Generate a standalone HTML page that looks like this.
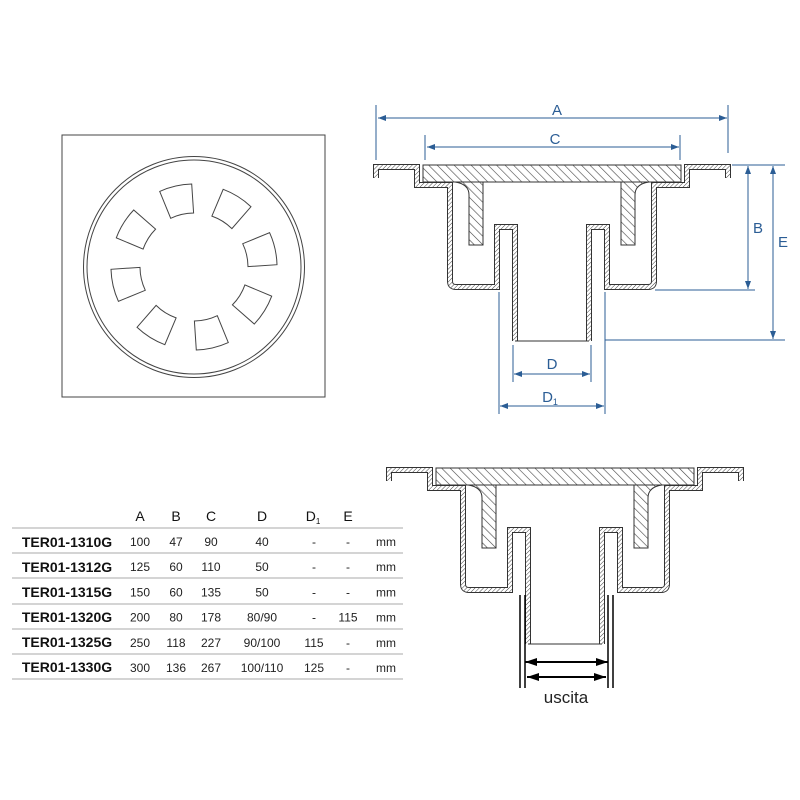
<!DOCTYPE html>
<html><head><meta charset="utf-8"><style>
html,body{margin:0;padding:0;background:#fff}
svg{display:block}
text{font-family:"Liberation Sans",sans-serif}
</style></head><body>
<svg width="800" height="800" viewBox="0 0 800 800" xmlns="http://www.w3.org/2000/svg">
<defs>
<pattern id="h1" patternUnits="userSpaceOnUse" width="3" height="3" patternTransform="rotate(45)">
<rect width="3" height="3" fill="#fff"/><line x1="0" y1="0" x2="0" y2="3" stroke="#444" stroke-width="1"/></pattern>
<pattern id="h2" patternUnits="userSpaceOnUse" width="6" height="6" patternTransform="rotate(-45)">
<rect width="6" height="6" fill="#fff"/><line x1="0" y1="0" x2="0" y2="6" stroke="#444" stroke-width="1.2"/></pattern>
<marker id="ab" markerWidth="8" markerHeight="6" refX="8" refY="3" orient="auto-start-reverse" markerUnits="userSpaceOnUse">
<path d="M0,0 L8,3 L0,6 Z" fill="#2b5d95"/></marker>
<marker id="ak" markerWidth="12" markerHeight="8" refX="12" refY="4" orient="auto-start-reverse" markerUnits="userSpaceOnUse">
<path d="M0,0 L12,4 L0,8 Z" fill="#000"/></marker>
<g id="sec">
<g fill="none" stroke-linejoin="miter">
<path d="M376,178 V167 H417 V185 H450 V281 Q450,287 456,287 H497 V227 H515 V341 M728,178 V167 H687 V185 H654 V281 Q654,287 648,287 H607 V227 H589 V341" stroke="#333" stroke-width="6"/>
<path d="M376,178 V167 H417 V185 H450 V281 Q450,287 456,287 H497 V227 H515 V341 M728,178 V167 H687 V185 H654 V281 Q654,287 648,287 H607 V227 H589 V341" stroke="url(#h1)" stroke-width="4"/>
</g>
<line x1="515" y1="341" x2="589" y2="341" stroke="#333" stroke-width="1"/>
<rect x="423" y="165" width="258" height="17" fill="url(#h2)" stroke="#333" stroke-width="1"/>
<path d="M455,182 Q469,184 469,195 V245 H483 V182 Z" fill="url(#h2)" stroke="#333" stroke-width="1"/>
<path d="M649,182 Q635,184 635,195 V245 H621 V182 Z" fill="url(#h2)" stroke="#333" stroke-width="1"/>
</g>
</defs>

<rect x="62" y="135" width="263" height="262" fill="none" stroke="#444" stroke-width="1"/>
<circle cx="194" cy="267" r="110.5" fill="none" stroke="#444" stroke-width="1"/>
<circle cx="194" cy="267" r="107" fill="none" stroke="#444" stroke-width="1"/>
<g id="slots" fill="none" stroke="#444" stroke-width="1"></g>

<use href="#sec"/>
<g stroke="#2b5d95" stroke-width="1" fill="none">
<line x1="376" y1="105" x2="376" y2="160"/>
<line x1="728" y1="105" x2="728" y2="153"/>
<line x1="378" y1="118" x2="727" y2="118" marker-start="url(#ab)" marker-end="url(#ab)"/>
<line x1="425" y1="135" x2="425" y2="160"/>
<line x1="680" y1="135" x2="680" y2="160"/>
<line x1="427" y1="147" x2="679" y2="147" marker-start="url(#ab)" marker-end="url(#ab)"/>
<line x1="732" y1="165" x2="785" y2="165"/>
<line x1="655" y1="290" x2="755" y2="290"/>
<line x1="605" y1="340" x2="785" y2="340"/>
<line x1="748" y1="166" x2="748" y2="289" marker-start="url(#ab)" marker-end="url(#ab)"/>
<line x1="773" y1="166" x2="773" y2="339" marker-start="url(#ab)" marker-end="url(#ab)"/>
<line x1="513" y1="345" x2="513" y2="382"/>
<line x1="591" y1="345" x2="591" y2="382"/>
<line x1="514" y1="374" x2="590" y2="374" marker-start="url(#ab)" marker-end="url(#ab)"/>
<line x1="499" y1="292" x2="499" y2="414"/>
<line x1="605" y1="292" x2="605" y2="414"/>
<line x1="500" y1="406" x2="604" y2="406" marker-start="url(#ab)" marker-end="url(#ab)"/>
</g>
<g fill="#2b5d95" font-size="15" text-anchor="middle">
<text x="557" y="115">A</text>
<text x="555" y="144">C</text>
<text x="758" y="233">B</text>
<text x="783" y="247">E</text>
<text x="552" y="369">D</text>
<text x="550" y="402">D<tspan font-size="9" dy="3">1</tspan></text>
</g>

<use href="#sec" transform="translate(13,303)"/>
<g stroke="#000" stroke-width="1.5" fill="none">
<line x1="520" y1="595" x2="520" y2="688"/>
<line x1="525" y1="595" x2="525" y2="688"/>
<line x1="608" y1="595" x2="608" y2="688"/>
<line x1="613" y1="595" x2="613" y2="688"/>
<line x1="525" y1="662" x2="608" y2="662" stroke-width="2" marker-start="url(#ak)" marker-end="url(#ak)"/>
<line x1="527" y1="677" x2="606" y2="677" stroke-width="2" marker-start="url(#ak)" marker-end="url(#ak)"/>
</g>
<text x="566" y="703" font-size="17" text-anchor="middle" fill="#222">uscita</text>

<g stroke="#aaa" stroke-width="1">
<line x1="12" y1="528" x2="403" y2="528"/>
<line x1="12" y1="553" x2="403" y2="553"/>
<line x1="12" y1="578" x2="403" y2="578"/>
<line x1="12" y1="604" x2="403" y2="604"/>
<line x1="12" y1="629" x2="403" y2="629"/>
<line x1="12" y1="654" x2="403" y2="654"/>
<line x1="12" y1="679" x2="403" y2="679"/>
</g>
<g font-size="14" fill="#111" text-anchor="middle">
<text x="140" y="521">A</text><text x="176" y="521">B</text><text x="211" y="521">C</text>
<text x="262" y="521">D</text><text x="313" y="521">D<tspan font-size="8" dy="3">1</tspan></text><text x="348" y="521">E</text>
</g>
<g font-size="14" font-weight="bold" fill="#111" text-anchor="middle">
<text x="67" y="547">TER01-1310G</text>
<text x="67" y="572">TER01-1312G</text>
<text x="67" y="597">TER01-1315G</text>
<text x="67" y="622">TER01-1320G</text>
<text x="67" y="647">TER01-1325G</text>
<text x="67" y="672">TER01-1330G</text>
</g>
<g font-size="12" fill="#222" text-anchor="middle" id="tb"></g>
<script>
(function(){
var ns="http://www.w3.org/2000/svg";
var g=document.getElementById('slots');
var cx=194,cy=267,r1=54,r2=83,w=12*Math.PI/180;
function p(r,b){return (cx+r*Math.cos(b)).toFixed(1)+","+(cy+r*Math.sin(b)).toFixed(1);}
for(var i=0;i<8;i++){
 var a=(-103+45*i)*Math.PI/180;
 var d="M"+p(r1,a-w*1.05)+" A"+r1+","+r1+" 0 0 1 "+p(r1,a+w*1.05)+" L"+p(r2,a+w*0.95)+" A"+r2+","+r2+" 0 0 0 "+p(r2,a-w*0.95)+" Z";
 var e=document.createElementNS(ns,'path');e.setAttribute('d',d);g.appendChild(e);
}
var rows=[["100","47","90","40","-","-"],["125","60","110","50","-","-"],["150","60","135","50","-","-"],["200","80","178","80/90","-","115"],["250","118","227","90/100","115","-"],["300","136","267","100/110","125","-"]];
var xs=[140,176,211,262,314,348],tb=document.getElementById('tb');
rows.forEach(function(r,j){var y=546+25.2*j;
 r.concat(["mm"]).forEach(function(v,k){var t=document.createElementNS(ns,'text');
 t.setAttribute('x',k<6?xs[k]:386);t.setAttribute('y',y);t.textContent=v;tb.appendChild(t);});});
})();
</script>
</svg>
</body></html>
